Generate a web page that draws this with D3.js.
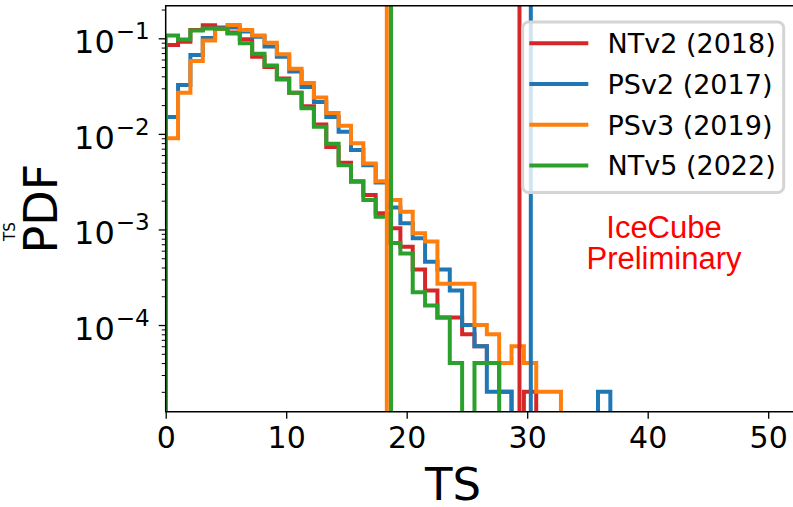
<!DOCTYPE html>
<html>
<head>
<meta charset="utf-8">
<script src="https://cdn.jsdelivr.net/npm/d3@7/dist/d3.min.js"></script>
<style>
  body { margin: 0; background: #ffffff; }
  svg { display: block; }
</style>
</head>
<body>
<svg id="chart" width="793" height="507"></svg>
<script>
// Background test-statistic distributions for four IceCube event samples

const sampleNames  = ["NTv2 (2018)", "PSv2 (2017)", "PSv3 (2019)", "NTv5 (2022)"];
const sampleColors = ["#d62728", "#1f77b4", "#ff7f0e", "#2ca02c"];

// histogram bin width in TS units (bins start at TS = 0)
const binWidth = 1.025;

// probability density per bin
const ntv2Pdf = [0.085, 0.092, 0.122, 0.137, 0.130, 0.115, 0.098, 0.064, 0.050, 0.038,
                 0.027, 0.0195, 0.0125, 0.0073, 0.0050, 0.0032, 0.0023, 0.00148, 0.00103, 0.00066,
                 0.00038, 0.00023, 0.00012, 0.00012, 0.00008, 0.00006, 0.00004, 0.00002, 0, 0.00002,
                 0, 0, 0, 0, 0, 0];
const psv2Pdf = [0.015, 0.0325, 0.067, 0.101, 0.127, 0.130, 0.118, 0.104, 0.082, 0.064,
                 0.045, 0.031, 0.0215, 0.015, 0.0105, 0.0068, 0.0047, 0.0031, 0.0017, 0.00116,
                 0.00081, 0.00046, 0.00038, 0.00023, 0.0001, 0.00006, 0.00002, 0.00002, 0, 0,
                 0, 0, 0, 0, 0, 0.00002];
const psv3Pdf = [0.009, 0.027, 0.058, 0.095, 0.125, 0.138, 0.122, 0.107, 0.090, 0.068,
                 0.048, 0.034, 0.024, 0.0165, 0.0122, 0.0080, 0.0049, 0.0032, 0.00203, 0.00153,
                 0.00091, 0.00075, 0.00027, 0.00027, 0.00027, 0.0001, 0.00008, 0.00004, 0.00006, 0.00004,
                 0.00002, 0.00002, 0, 0, 0, 0];
const ntv5Pdf = [0.107, 0.097, 0.121, 0.127, 0.126, 0.112, 0.089, 0.069, 0.052, 0.037,
                 0.027, 0.0185, 0.0119, 0.0079, 0.0047, 0.00316, 0.00203, 0.00136, 0.00072, 0.00056,
                 0.00022, 0.00016, 0.00012, 0.00004, 0, 0.00004, 0.00004, 0, 0, 0,
                 0, 0, 0, 0, 0, 0];

// observed (unblinded) TS per sample
const observedTS = [29.36, 30.3, 18.35, 18.7];

const xTicks = [0, 10, 20, 30, 40, 50];
const yTicks = [1e-4, 1e-3, 1e-2, 1e-1];
const yTickExponents = ["\u22124", "\u22123", "\u22122", "\u22121"];

const xDomain = [0, 52.6];
const yDomain = [1.239e-5, 0.2194];

// ---- layout ----
const plot = { left: 165.7, top: 5.7, bottom: 411.7 };
plot.right = plot.left + 12.05 * (xDomain[1] - xDomain[0]);

const svg = d3.select("#chart");
const font = "'DejaVu Sans', sans-serif";
const ink = "#000000";

const x = d3.scaleLinear().domain(xDomain).range([plot.left, plot.right]);
const y = d3.scaleLog().domain(yDomain).range([plot.bottom, plot.top]);

svg.append("rect").attr("width", 793).attr("height", 507).attr("fill", "#ffffff");

svg.append("defs").append("clipPath").attr("id", "plot-area")
  .append("rect")
  .attr("x", plot.left).attr("y", plot.top)
  .attr("width", plot.right - plot.left).attr("height", plot.bottom - plot.top);

const area = svg.append("g").attr("clip-path", "url(#plot-area)");

// empty bins fall off the bottom of a log axis
const yOf = v => (v > 0 ? y(v) : plot.bottom + 40);

function stepPoints(values) {
  const pts = [[0, 0]];
  values.forEach((v, i) => {
    pts.push([i * binWidth, v]);
    pts.push([(i + 1) * binWidth, v]);
  });
  pts.push([values.length * binWidth, 0]);
  return pts;
}

const stepLine = d3.line()
  .x(d => x(d[0]))
  .y(d => yOf(d[1]));

const series = [ntv2Pdf, psv2Pdf, psv3Pdf, ntv5Pdf];

series.forEach((vals, i) => {
  area.append("path")
    .attr("d", stepLine(stepPoints(vals)))
    .attr("fill", "none")
    .attr("stroke", sampleColors[i])
    .attr("stroke-width", 4)
    .attr("stroke-linejoin", "miter");
});

// observed TS markers
observedTS.forEach((ts, i) => {
  area.append("line")
    .attr("x1", x(ts)).attr("x2", x(ts))
    .attr("y1", plot.top).attr("y2", plot.bottom)
    .attr("stroke", sampleColors[i])
    .attr("stroke-width", 4);
});

// ---- axes ----
const xAxis = svg.append("g")
  .attr("transform", `translate(0,${plot.bottom})`)
  .call(d3.axisBottom(x).tickValues(xTicks).tickSize(7).tickPadding(8).tickFormat(d3.format("d")));
xAxis.select(".domain").remove();
xAxis.selectAll(".tick line").attr("stroke", ink).attr("stroke-width", 1.3);
xAxis.selectAll(".tick text")
  .attr("fill", ink).attr("font-family", font).attr("font-size", 30);

// minor log ticks
const minorTicks = [];
for (let e = -5; e <= -1; e++) {
  for (let m = 2; m <= 9; m++) {
    const v = m * Math.pow(10, e);
    if (v >= yDomain[0] && v <= yDomain[1]) minorTicks.push(v);
  }
}
const yMinor = svg.append("g")
  .attr("transform", `translate(${plot.left},0)`)
  .call(d3.axisLeft(y).tickValues(minorTicks).tickSize(4).tickFormat(""));
yMinor.select(".domain").remove();
yMinor.selectAll(".tick line").attr("stroke", ink).attr("stroke-width", 1);

const yAxis = svg.append("g")
  .attr("transform", `translate(${plot.left},0)`)
  .call(d3.axisLeft(y).tickValues(yTicks).tickSize(7).tickFormat(""));
yAxis.select(".domain").remove();
yAxis.selectAll(".tick line").attr("stroke", ink).attr("stroke-width", 1.3);
yAxis.selectAll(".tick").each(function (d, i) {
  const t = d3.select(this).append("text")
    .attr("x", -16).attr("y", 14.5)
    .attr("text-anchor", "end")
    .attr("fill", ink)
    .attr("font-family", font)
    .attr("font-size", 32);
  t.append("tspan").text("10");
  t.append("tspan").attr("dx", 1).attr("dy", -14).attr("font-size", 23).text(yTickExponents[i]);
});

// frame
svg.append("path")
  .attr("d", `M${plot.right},${plot.top}H${plot.left}V${plot.bottom}H${plot.right}`)
  .attr("fill", "none").attr("stroke", ink).attr("stroke-width", 1.5);

// axis titles
svg.append("text")
  .attr("x", 453).attr("y", 500)
  .attr("text-anchor", "middle")
  .attr("font-family", font).attr("font-size", 45).attr("fill", ink)
  .text("TS");

svg.append("text")
  .attr("transform", `translate(57,${(plot.top + plot.bottom) / 2}) rotate(-90)`)
  .attr("text-anchor", "middle")
  .attr("font-family", font).attr("font-size", 46).attr("fill", ink)
  .text("PDF");

svg.append("text")
  .attr("transform", "translate(15,241) rotate(-90)")
  .attr("text-anchor", "start")
  .attr("font-family", font).attr("font-size", 15).attr("fill", ink)
  .text("TS");

// ---- legend ----
const legend = svg.append("g");
legend.append("rect")
  .attr("x", 522.7).attr("y", 22)
  .attr("width", 261).attr("height", 170.5)
  .attr("rx", 6).attr("ry", 6)
  .attr("fill", "#ffffff").attr("fill-opacity", 0.8)
  .attr("stroke", "#d4d4d4").attr("stroke-width", 3);

const legendRow = d3.scaleLinear().domain([0, 3]).range([43.3, 165.4]);
sampleNames.forEach((name, i) => {
  const ly = legendRow(i);
  legend.append("line")
    .attr("x1", 529.3).attr("x2", 588.3)
    .attr("y1", ly).attr("y2", ly)
    .attr("stroke", sampleColors[i]).attr("stroke-width", 4);
  legend.append("text")
    .attr("x", 607.5).attr("y", ly + 10)
    .attr("font-family", font).attr("font-size", 27).attr("fill", ink)
    .text(name);
});

// preliminary mark
const mark = svg.append("text")
  .attr("text-anchor", "middle")
  .attr("font-family", "'Liberation Sans', Arial, sans-serif")
  .attr("font-size", 31)
  .attr("fill", "#ff0000");
mark.append("tspan").attr("x", 664).attr("y", 238).text("IceCube");
mark.append("tspan").attr("x", 664).attr("y", 269).text("Preliminary");
</script>
</body>
</html>
